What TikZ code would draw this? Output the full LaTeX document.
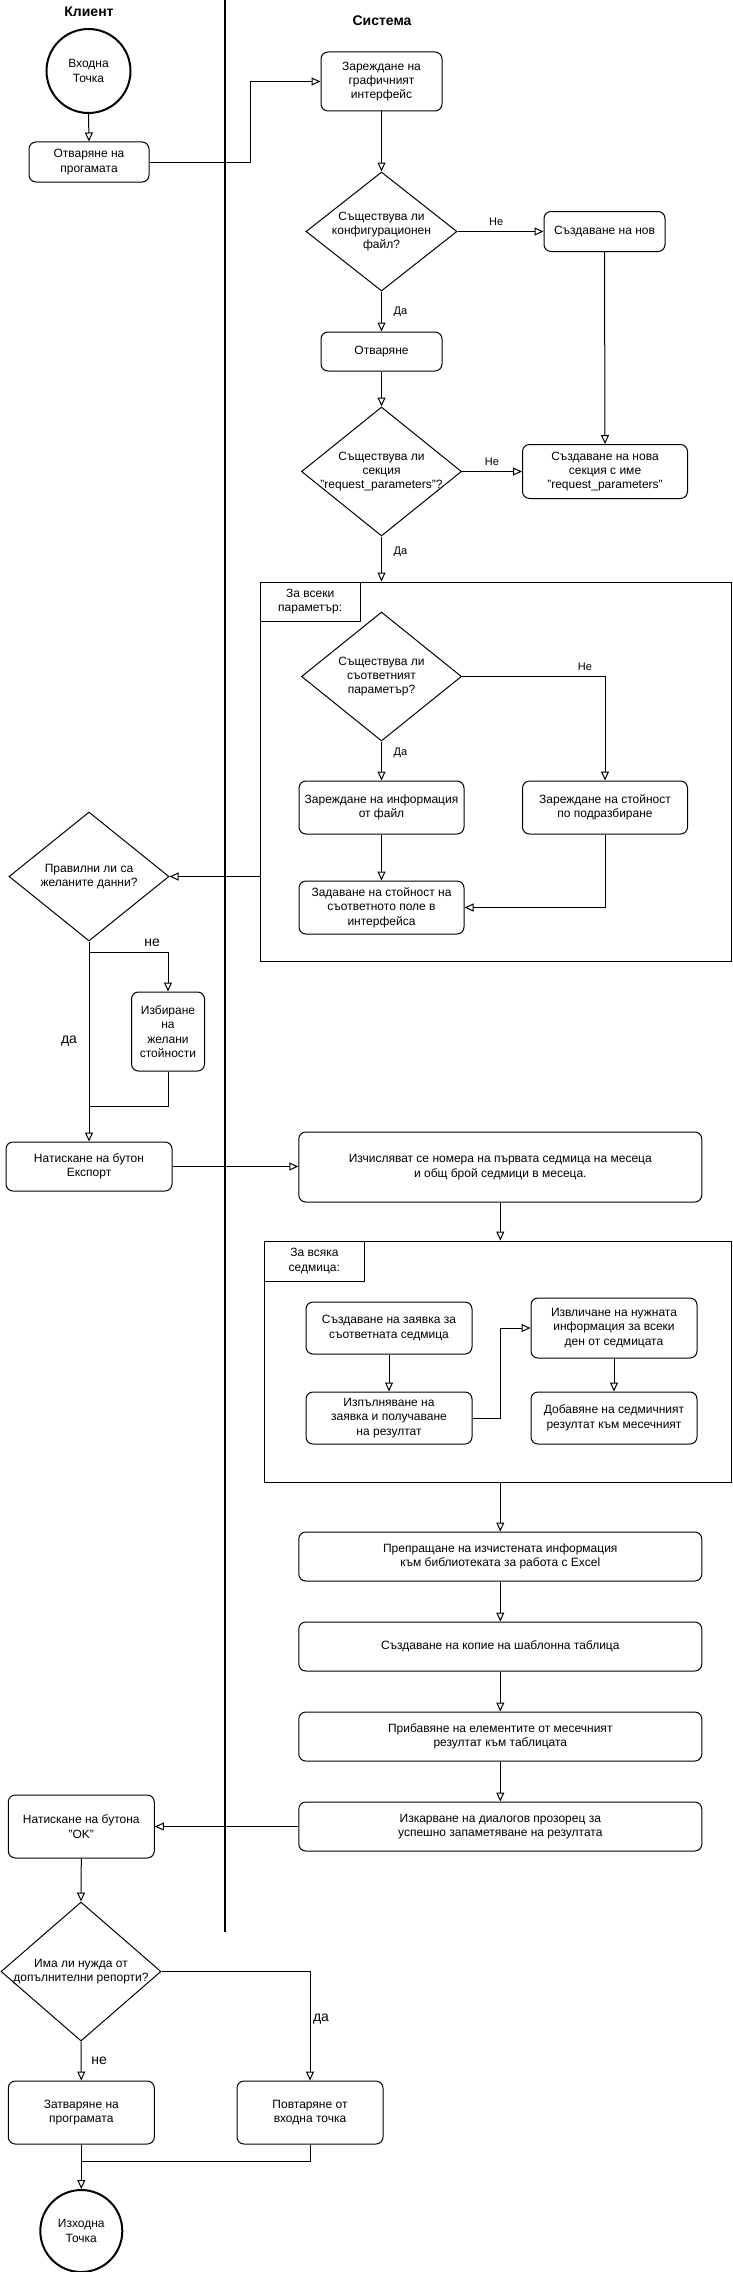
\documentclass[tikz,border=0pt]{standalone}
\usepackage{fontspec}
\setmainfont{Liberation Sans}
\usetikzlibrary{arrows.meta,shapes.geometric,calc}
\begin{document}
\begin{tikzpicture}[x=1pt,y=-1pt,
  txt/.style={font=\fontsize{12}{14.4}\selectfont, align=center, inner sep=0pt},
  box/.style={txt, draw, rounded corners=7pt, line width=1pt},
  dia/.style={draw, diamond, inner sep=0pt, line width=1pt},
  term/.style={txt, draw, circle, line width=2pt, minimum size=84pt},
  cont/.style={draw, rectangle, line width=1pt, inner sep=0pt},
  tab/.style={txt, draw, rectangle, line width=1pt, anchor=north west},
  arr/.style={line width=1pt, -{Triangle[open, length=9pt, width=8pt]}},
  ln/.style={line width=1pt},
  lab/.style={font=\fontsize{11}{13}\selectfont, inner sep=0pt},
  labb/.style={font=\fontsize{14}{16}\selectfont, inner sep=0pt},
  title/.style={font=\fontsize{14}{16}\selectfont\bfseries, inner sep=0pt}
]
\useasboundingbox[fill=white] (0,0) rectangle (733,2272);

% titles and lane separator
\node[title] (tk) at (89,12) {Клиент};
\node[title] (ts) at (382,21) {Система};
\coordinate (sepT) at (224.5,0);
\coordinate (sepB) at (224.5,1932);
\draw[line width=2pt] (sepT) -- (sepB);

% top part
\node[term] (start) at (88.5,71) {Входна\\Точка};
\node[box, minimum width=120pt, minimum height=40pt] (open) at (89,162) {Отваряне на\\прогамата};
\node[box, minimum width=121pt, minimum height=59pt] (gui) at (381.5,81.5) {Зареждане на\\графичният\\интерфейс};
\node[dia, minimum width=151pt, minimum height=119pt] (d1) at (381.5,231.5) {};
\node[txt] (d1t) at (d1) {Съществува ли\\конфигурационен\\файл?};
\node[box, minimum width=121pt, minimum height=40pt] (newf) at (604.5,231.5) {Създаване на нов};
\node[box, minimum width=121pt, minimum height=39pt] (openf) at (381.5,351.5) {Отваряне};
\node[dia, minimum width=160pt, minimum height=129pt] (d2) at (381.5,471.5) {};
\node[txt] (d2t) at (d2) {Съществува ли\\секция\\"request\_parameters"?};
\node[box, minimum width=165pt, minimum height=54pt] (newsec) at (605,471.5) {Създаване на нова\\секция с име\\"request\_parameters"};

% container 1
\node[cont, minimum width=471.5pt, minimum height=379pt] (c1) at (495.75,771.5) {};
\node[tab, minimum width=100.4pt, minimum height=39pt] (tab1) at (c1.north west) {За всеки\\параметър:};
\node[dia, minimum width=160pt, minimum height=129pt] (d3) at (381.5,676.5) {};
\node[txt] (d3t) at (d3) {Съществува ли\\съответният\\параметър?};
\node[box, minimum width=165pt, minimum height=53pt] (loadf) at (381.5,807.5) {Зареждане на информация\\от файл};
\node[box, minimum width=165pt, minimum height=53pt] (loadd) at (605,807.5) {Зареждане на стойност\\по подразбиране};
\node[box, minimum width=165pt, minimum height=53pt] (setv) at (381.5,907.5) {Задаване на стойност на\\съответното поле в\\интерфейса};

% client decision
\node[dia, minimum width=160pt, minimum height=129pt] (d4) at (89,876.5) {};
\node[txt] (d4t) at (d4) {Правилни ли са\\желаните данни?};
\node[box, minimum width=73pt, minimum height=79pt] (choose) at (168,1031.5) {Избиране\\на\\желани\\стойности};
\node[box, minimum width=166pt, minimum height=49pt] (export) at (89,1166.5) {Натискане на бутон\\Експорт};
\node[box, minimum width=403pt, minimum height=70pt] (calc) at (500.3,1167) {Изчисляват се номера на първата седмица на месеца\\и общ брой седмици в месеца.};

% container 2
\node[cont, minimum width=467.5pt, minimum height=241pt] (c2) at (497.75,1361.5) {};
\node[tab, minimum width=100.7pt, minimum height=40pt] (tab2) at (c2.north west) {За всяка\\седмица:};
\node[box, minimum width=166pt, minimum height=52pt] (req) at (389,1328) {Създаване на заявка за\\съответната седмица};
\node[box, minimum width=166pt, minimum height=52pt] (exec) at (389,1418) {Изпълняване на\\заявка и получаване\\на резултат};
\node[box, minimum width=166pt, minimum height=60pt] (extract) at (614,1328) {Извличане на нужната\\информация за всеки\\ден от седмицата};
\node[box, minimum width=166pt, minimum height=52pt] (add) at (614,1418) {Добавяне на седмичният\\резултат към месечният};

% lower system boxes
\node[box, minimum width=403pt, minimum height=49pt] (fwd) at (500.3,1556.5) {Препращане на изчистената информация\\към библиотеката за работа с Excel};
\node[box, minimum width=403pt, minimum height=49pt] (copy) at (500.3,1646.5) {Създаване на копие на шаблонна таблица};
\node[box, minimum width=403pt, minimum height=49pt] (append) at (500.3,1736.5) {Прибавяне на елементите от месечният\\резултат към таблицата};
\node[box, minimum width=403pt, minimum height=49pt] (dialog) at (500.3,1826.5) {Изкарване на диалогов прозорец за\\успешно запаметяване на резултата};

% client end part
\node[box, minimum width=146pt, minimum height=63pt] (ok) at (81.3,1826.5) {Натискане на бутона\\"OK"};
\node[dia, minimum width=160pt, minimum height=139pt] (d5) at (81,1971.5) {};
\node[txt] (d5t) at (d5) {Има ли нужда от\\допълнителни репорти?};
\node[box, minimum width=146pt, minimum height=63pt] (close) at (81.3,2112.5) {Затваряне на\\програмата};
\node[box, minimum width=146pt, minimum height=63pt] (repeat) at (310,2112.5) {Повтаряне от\\входна точка};
\node[term, minimum size=82pt] (endp) at (81.3,2231) {Изходна\\Точка};

% connectors
\draw[arr] (start.south) -- (open.north);
\draw[arr] (open.east) -- (250,162) |- (gui.west);
\draw[arr] (gui.south) -- (d1.north);
\draw[arr] (d1.east) -- node[lab, pos=0.45, yshift=10pt] (l1) {Не} (newf.west);
\draw[arr] (d1.south) -- node[lab, pos=0.5, xshift=19pt] (l2) {Да} (openf.north);
\draw[arr] (openf.south) -- (d2.north);
\draw[arr] (newf.south) -- (newsec.north);
\draw[arr] (d2.east) -- node[lab, pos=0.5, yshift=10pt] (l3) {Не} (newsec.west);
\draw[arr] (d2.south) -- node[lab, pos=0.35, xshift=19pt] (l4) {Да} (d2.south |- c1.north);
\draw[arr] (d3.east) -| node[lab, pos=0.43, yshift=10pt] (l5) {Не} (loadd.north);
\draw[arr] (d3.south) -- node[lab, pos=0.28, xshift=19pt] (l6) {Да} (loadf.north);
\draw[arr] (loadf.south) -- (setv.north);
\draw[arr] (loadd.south) |- (setv.east);
\draw[arr] (c1.west |- d4.east) -- (d4.east);
\coordinate (sp4) at (89,952);
\draw[arr] (sp4) -| node[labb, pos=0.4, yshift=9pt] (l7) {не} (choose.north);
\draw[ln] (choose.south) |- (89,1106);
\draw[arr] (d4.south) -- node[labb, pos=0.5, xshift=-20pt] (l8) {да} (export.north);
\draw[arr] (export.east) -- (export.east -| calc.west);
\draw[arr] (calc.south) -- (calc.south |- c2.north);
\draw[arr] (req.south) -- (req.south |- exec.north);
\draw[arr] (exec.east) -- (500.5,1418) |- (extract.west);
\draw[arr] (extract.south) -- (extract.south |- add.north);
\draw[arr] (fwd.north |- c2.south) -- (fwd.north);
\draw[arr] (fwd.south) -- (copy.north);
\draw[arr] (copy.south) -- (append.north);
\draw[arr] (append.south) -- (dialog.north);
\draw[arr] (dialog.west) -- (ok.east);
\draw[arr] (ok.south) -- (d5.north);
\draw[arr] (d5.east) -| node[labb, pos=0.72, xshift=11pt] (l9) {да} (repeat.north);
\draw[arr] (d5.south) -- node[labb, pos=0.5, xshift=18pt] (l10) {не} (close.north);
\draw[arr] (close.south) -- (endp.north);
\draw[ln] (repeat.south) |- (81.3,2161);
\end{tikzpicture}
\end{document}
